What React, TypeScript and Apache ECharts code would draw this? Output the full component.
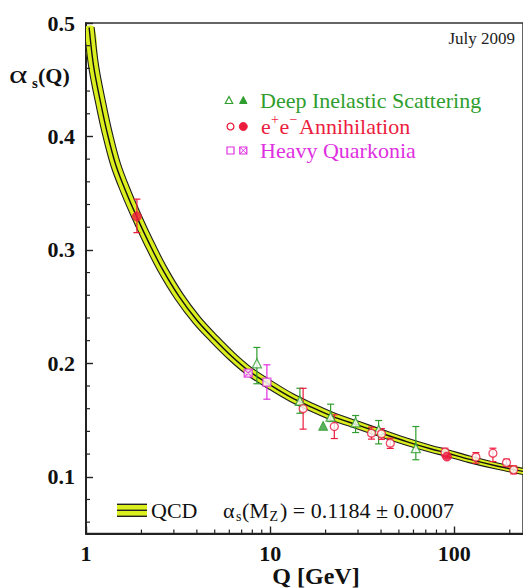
import React, { useEffect, useRef } from 'react';
import * as echarts from 'echarts';

// QCD running coupling curve
const curveQ = [1.04, 1.1, 1.2, 1.3, 1.45, 1.65, 1.9, 2.2, 2.6, 3.2, 4.0, 5.0, 6.2, 7.7, 10, 13, 17, 22, 30, 40, 55, 75, 91.2, 120, 170, 240];
const curveA = [0.496, 0.462, 0.43, 0.404, 0.375, 0.351, 0.328, 0.306, 0.283, 0.259, 0.238, 0.221, 0.206, 0.193, 0.181, 0.17, 0.161, 0.153, 0.1455, 0.1385, 0.131, 0.1245, 0.121, 0.1155, 0.1095, 0.1045];

// [Q, alpha, low, high]
const disOpen = [
  [8.47, 0.2, 0.182, 0.214],
  [14.5, 0.167, 0.156, 0.178],
  [21.3, 0.153, 0.1487, 0.164],
  [29.1, 0.148, 0.139, 0.154],
  [38.8, 0.1414, 0.129, 0.1496],
  [61.8, 0.1252, 0.115, 0.1443],
];
const disFilled = [[19.4, 0.1449]];
const eeOpen = [
  [15.1, 0.16, 0.142, 0.178],
  [22.3, 0.1443, 0.1337, 0.1546],
  [35.5, 0.1384, 0.1332, 0.1437],
  [40.2, 0.1378, 0.133, 0.1425],
  [44.9, 0.1296, 0.125, 0.134],
  [89, 0.1217, 0.1178, 0.1252],
  [131, 0.1173, 0.112, 0.1213],
  [162, 0.1208, 0.1134, 0.1252],
  [192, 0.1125, 0.109, 0.1155],
  [210, 0.1061, 0.1026, 0.1096],
];
const eeFilled = [[1.89, 0.3295, 0.3153, 0.3448], [91.2, 0.1178, 0.1165, 0.1191]];
const hqOpen = [[9.6, 0.1834, 0.1684, 0.1987]];
const hqFilled = [[7.6, 0.1914, 0.1885, 0.1943]];

const xMinorTicks = [2, 3, 4, 5, 6, 7, 8, 9, 20, 30, 40, 50, 60, 70, 80, 90, 200];
const yMinorTicks = [0.06, 0.08, 0.12, 0.14, 0.16, 0.18, 0.22, 0.24, 0.26, 0.28, 0.32, 0.34, 0.36, 0.38, 0.42, 0.44, 0.46, 0.48];

const GREEN = '#2f9e2f';
const RED = '#ec1c3e';
const MAGENTA = '#e02fe0';
const YELLOW = '#dcef1e';
const SERIF = '"Liberation Serif", "Times New Roman", serif';

function errSeries(data: number[][], color: string) {
  return {
    type: 'custom',
    coordinateSystem: 'cartesian2d',
    clip: true,
    encode: { x: 0, y: 1 },
    data,
    z: 3,
    renderItem: (params: any, api: any) => {
      const x = api.value(0);
      const p1 = api.coord([x, api.value(2)]);
      const p2 = api.coord([x, api.value(3)]);
      const c = 3.5;
      const st = { stroke: color, lineWidth: 1.2 };
      return {
        type: 'group',
        children: [
          { type: 'line', shape: { x1: p1[0], y1: p1[1], x2: p2[0], y2: p2[1] }, style: st },
          { type: 'line', shape: { x1: p1[0] - c, y1: p1[1], x2: p1[0] + c, y2: p1[1] }, style: st },
          { type: 'line', shape: { x1: p2[0] - c, y1: p2[1], x2: p2[0] + c, y2: p2[1] }, style: st },
        ],
      };
    },
  };
}

function scatter(data: number[][], symbol: string, color: string, filled: boolean, size: number) {
  return {
    type: 'scatter',
    data: data.map((d) => [d[0], d[1]]),
    symbol,
    symbolSize: size,
    z: 4,
    itemStyle: filled
      ? { color, borderColor: color, borderWidth: 1 }
      : { color: '#ffffff', borderColor: color, borderWidth: 1.3 },
  };
}

function txt(text: string, x: number, y: number, size: number, fill: string, opts: any = {}) {
  return {
    type: 'text',
    x,
    y,
    scaleX: opts.scaleX ?? 1,
    style: {
      text,
      fill,
      font: `${opts.bold ? 'bold ' : ''}${size}px ${SERIF}`,
      align: opts.align ?? 'left',
      textAlign: opts.align ?? 'left',
      verticalAlign: 'middle',
      textVerticalAlign: 'middle',
    },
  };
}

export default function App() {
  const ref = useRef<HTMLDivElement>(null);
  useEffect(() => {
    if (!ref.current) return;
    const chart = echarts.init(ref.current, null, { renderer: 'svg' });

    const bandSeries = {
      type: 'custom',
      coordinateSystem: 'cartesian2d',
      clip: true,
      z: 2,
      encode: { x: 0, y: 1 },
      data: [[curveQ[0], curveA[0]]],
      renderItem: (params: any, api: any) => {
        const pts = curveQ.map((q, i) => api.coord([q, curveA[i]]));
        const n = pts.length;
        const x0 = pts[0][0];
        const x1 = pts[n - 1][0];
        const up: number[][] = [];
        const dn: number[][] = [];
        for (let i = 0; i < n; i++) {
          const a = pts[Math.max(i - 1, 0)];
          const b = pts[Math.min(i + 1, n - 1)];
          const tx = b[0] - a[0];
          const ty = b[1] - a[1];
          const len = Math.hypot(tx, ty) || 1;
          const nx = -ty / len;
          const ny = tx / len;
          const t = (pts[i][0] - x0) / (x1 - x0);
          const h = 5 - 2 * t;
          up.push([pts[i][0] + nx * h, pts[i][1] + ny * h]);
          dn.push([pts[i][0] - nx * h, pts[i][1] - ny * h]);
        }
        const sm = 0.35;
        const edge = { stroke: '#1c1c1c', lineWidth: 1.1, fill: null };
        return {
          type: 'group',
          children: [
            { type: 'polygon', shape: { points: up.concat(dn.slice().reverse()), smooth: sm }, style: { fill: YELLOW, stroke: null } },
            { type: 'polyline', shape: { points: up, smooth: sm }, style: edge },
            { type: 'polyline', shape: { points: dn, smooth: sm }, style: edge },
            { type: 'polyline', shape: { points: pts, smooth: sm }, style: { stroke: '#111', lineWidth: 1.4, fill: null } },
          ],
        };
      },
    };

    const xMinorSeries = {
      type: 'custom',
      coordinateSystem: 'cartesian2d',
      encode: { x: 0 },
      data: xMinorTicks.map((v) => [v, 0.05]),
      z: 5,
      renderItem: (params: any, api: any) => {
        const p = api.coord([api.value(0), 0.05]);
        return { type: 'line', shape: { x1: p[0], y1: p[1], x2: p[0], y2: p[1] - 4 }, style: { stroke: '#222', lineWidth: 1.2 } };
      },
    };
    const yMinorSeries = {
      type: 'custom',
      coordinateSystem: 'cartesian2d',
      encode: { x: 0, y: 1 },
      data: yMinorTicks.map((v) => [1, v]),
      z: 5,
      renderItem: (params: any, api: any) => {
        const p = api.coord([1, api.value(1)]);
        return { type: 'line', shape: { x1: p[0], y1: p[1], x2: p[0] + 4, y2: p[1] }, style: { stroke: '#222', lineWidth: 1.2 } };
      },
    };

    const crossPath = 'path://M0 0H10V10H0ZM0 0L10 10M10 0L0 10';

    const legendGraphics: any[] = [
      // DIS
      { type: 'polygon', shape: { points: [[229, 96.5], [225.3, 103.5], [232.7, 103.5]] }, style: { fill: '#fff', stroke: GREEN, lineWidth: 1.2 } },
      { type: 'polygon', shape: { points: [[243.3, 96.5], [239.6, 103.5], [247, 103.5]] }, style: { fill: GREEN, stroke: GREEN, lineWidth: 1 } },
      txt('Deep Inelastic Scattering', 260, 100, 22, GREEN),
      // e+e-
      { type: 'circle', shape: { cx: 230.5, cy: 126.5, r: 3.4 }, style: { fill: '#fff', stroke: RED, lineWidth: 1.3 } },
      { type: 'circle', shape: { cx: 243.3, cy: 126.5, r: 4 }, style: { fill: RED, stroke: RED, lineWidth: 1 } },
      txt('e', 261, 126.5, 22, RED),
      txt('+', 271, 119, 14, RED),
      txt('e', 279.5, 126.5, 22, RED),
      txt('\u2212', 289.5, 119, 14, RED),
      txt('Annihilation', 299, 126, 22, RED),
      // Quarkonia
      { type: 'rect', shape: { x: 227, y: 147, width: 7, height: 7 }, style: { fill: '#fff', stroke: MAGENTA, lineWidth: 1.2 } },
      { type: 'rect', shape: { x: 239.8, y: 147, width: 7, height: 7 }, style: { fill: '#fff', stroke: MAGENTA, lineWidth: 1.2 } },
      { type: 'line', shape: { x1: 239.8, y1: 147, x2: 246.8, y2: 154 }, style: { stroke: MAGENTA, lineWidth: 1 } },
      { type: 'line', shape: { x1: 246.8, y1: 147, x2: 239.8, y2: 154 }, style: { stroke: MAGENTA, lineWidth: 1 } },
      txt('Heavy Quarkonia', 260, 150.5, 22, MAGENTA),
      // date
      txt('July 2009', 515, 38, 17, '#222', { align: 'right' }),
      // y axis name
      txt('\u03b1', 9, 74, 26, '#111', { scaleX: 1.35 }),
      txt('s', 32, 83, 15, '#111', { bold: true }),
      txt('(Q)', 38, 75, 22, '#111', { bold: true }),
      // x axis name
      txt('Q [GeV]', 316, 576, 24, '#111', { bold: true, align: 'center' }),
      // bottom legend
      { type: 'rect', shape: { x: 117, y: 504, width: 30, height: 12.5 }, style: { fill: YELLOW } },
      { type: 'line', shape: { x1: 117, y1: 504.3, x2: 147, y2: 504.3 }, style: { stroke: '#222', lineWidth: 1.4 } },
      { type: 'line', shape: { x1: 117, y1: 510.3, x2: 147, y2: 510.3 }, style: { stroke: '#222', lineWidth: 1.4 } },
      { type: 'line', shape: { x1: 117, y1: 516.3, x2: 147, y2: 516.3 }, style: { stroke: '#222', lineWidth: 1.4 } },
      txt('QCD', 151, 510, 22, '#111'),
      txt('\u03b1', 223, 510, 22, '#111'),
      txt('s', 236, 516, 14, '#111'),
      txt('(M', 242, 510, 22, '#111'),
      txt('Z', 269.5, 516, 14, '#111'),
      txt(') = 0.1184 \u00b1 0.0007', 280, 510, 22, '#111'),
    ];

    chart.setOption({
      animation: false,
      backgroundColor: '#ffffff',
      grid: { left: 86, right: -2, top: 23, bottom: 54.5, show: true, borderColor: '#333', borderWidth: 1.5, backgroundColor: 'transparent' },
      xAxis: {
        type: 'log',
        logBase: 10,
        min: 1,
        max: 236,
        axisLine: { lineStyle: { color: '#222', width: 2 } },
        axisTick: { inside: true, length: 7, lineStyle: { color: '#222', width: 1.4 } },
        splitLine: { show: false },
        axisLabel: {
          margin: 9,
          showMaxLabel: false,
          color: '#111',
          fontFamily: SERIF,
          fontWeight: 'bold',
          fontSize: 22,
          formatter: (v: number) => String(Math.round(v)),
        },
      },
      yAxis: {
        type: 'value',
        min: 0.05,
        max: 0.5,
        axisLine: { lineStyle: { color: '#222', width: 2 } },
        axisTick: { inside: true, length: 7, lineStyle: { color: '#222', width: 1.4 } },
        splitLine: { show: false },
        axisLabel: {
          margin: 11,
          showMinLabel: false,
          color: '#111',
          fontFamily: SERIF,
          fontWeight: 'bold',
          fontSize: 22,
          formatter: (v: number) => v.toFixed(1),
        },
      },
      graphic: legendGraphics,
      series: [
        bandSeries,
        errSeries(disOpen, GREEN),
        errSeries(eeOpen, RED),
        errSeries(eeFilled, RED),
        errSeries(hqOpen, MAGENTA),
        errSeries(hqFilled, MAGENTA),
        scatter(disOpen, 'triangle', GREEN, false, 9),
        scatter(disFilled, 'triangle', GREEN, true, 9),
        scatter(eeOpen, 'circle', RED, false, 8),
        scatter(eeFilled, 'circle', RED, true, 9),
        scatter(hqOpen, 'rect', MAGENTA, false, 8),
        scatter(hqFilled, crossPath, MAGENTA, false, 8),
        xMinorSeries,
        yMinorSeries,
      ],
    });
    return () => chart.dispose();
  }, []);
  return <div ref={ref} style={{ position: 'fixed', left: 0, top: 0, width: 523, height: 588 }} />;
}
